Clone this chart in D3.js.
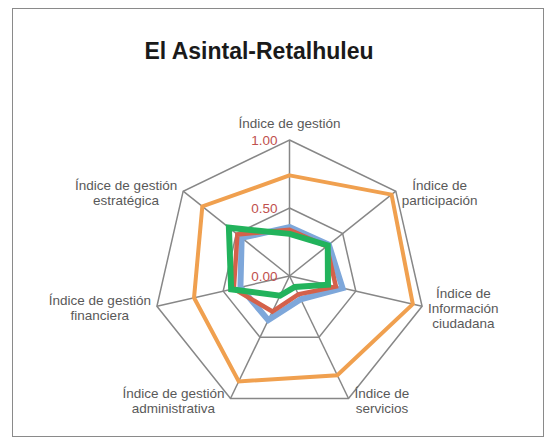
<!DOCTYPE html>
<html><head><meta charset="utf-8">
<script src="https://cdn.jsdelivr.net/npm/d3@7"></script>
<style>body{margin:0;background:#fff}</style>
</head><body>
<script>
const title = "El Asintal-Retalhuleu";
const categories = [
  ["Índice de gestión"],
  ["Índice de", "participación"],
  ["Índice de", "Información", "ciudadana"],
  ["Índice de", "servicios"],
  ["Índice de gestión", "administrativa"],
  ["Índice de gestión", "financiera"],
  ["Índice de gestión", "estratégica"]
];
const tickValues = [0, 0.5, 1.0];
const tickLabels = ["0.00", "0.50", "1.00"];
const seriesNames = ["Serie azul", "Serie roja", "Serie verde", "Serie naranja"];
const blueValues   = [0.36, 0.37, 0.40, 0.19, 0.36, 0.37, 0.45];
const redValues    = [0.34, 0.35, 0.35, 0.15, 0.29, 0.42, 0.49];
const greenValues  = [0.31, 0.36, 0.29, 0.09, 0.16, 0.44, 0.57];
const orangeValues = [0.74, 0.96, 0.93, 0.81, 0.86, 0.72, 0.82];
const seriesColors = ["#7ea7da", "#d4614a", "#22b35c", "#f0a04f"];
const seriesWidths = [6, 4.5, 6, 4];

const W = 548, H = 443;
const cx = 289.5, cy = 276, R = 136;
const svg = d3.select("body").append("svg").attr("width", W).attr("height", H);

svg.append("rect").attr("x", 12.5).attr("y", 8.5).attr("width", 531).attr("height", 428)
  .attr("fill", "#fff").attr("stroke", "#8a8a8a").attr("stroke-width", 1);

svg.append("text").attr("x", 259).attr("y", 59).attr("text-anchor", "middle")
  .attr("font-family", "Liberation Sans, Arial, sans-serif").attr("font-weight", "bold")
  .attr("font-size", 23).attr("fill", "#1a1a1a").text(title);

const n = categories.length;
const r = d3.scaleLinear().domain([0, 1]).range([0, R]);
const ang = d3.scaleLinear().domain([0, n]).range([0, 2 * Math.PI]);
const pt = (i, v) => [cx + r(v) * Math.sin(ang(i)), cy - r(v) * Math.cos(ang(i))];

const g = svg.append("g");
// rings
tickValues.filter(t => t > 0).forEach(t => {
  g.append("path").attr("d", d3.line()(d3.range(n).map(i => pt(i, t))) + "Z")
    .attr("fill", "none").attr("stroke", "#878787").attr("stroke-width", 1.5);
});
// spokes
d3.range(n).forEach(i => {
  const p = pt(i, 1);
  g.append("line").attr("x1", cx).attr("y1", cy).attr("x2", p[0]).attr("y2", p[1])
    .attr("stroke", "#878787").attr("stroke-width", 1.5);
});

// series
const allSeries = [blueValues, redValues, greenValues, orangeValues];
allSeries.forEach((vals, k) => {
  g.append("path").attr("d", d3.line()(vals.map((v, i) => pt(i, v))) + "Z")
    .attr("fill", "none").attr("stroke", seriesColors[k]).attr("stroke-width", seriesWidths[k])
    .attr("stroke-linejoin", "miter").attr("stroke-miterlimit", 4);
});

// tick labels
tickValues.forEach((t, j) => {
  svg.append("text").attr("x", cx - 12).attr("y", cy - r(t) + 5)
    .attr("text-anchor", "end").attr("font-family", "Liberation Sans, Arial, sans-serif")
    .attr("font-size", 13.5).attr("fill", "#c0504d").text(tickLabels[j]);
});

// category labels
const lh = 15;
categories.forEach((lines, i) => {
  const a = ang(i), s = Math.sin(a);
  const v = pt(i, 1);
  const grp = svg.append("g");
  const texts = lines.map(l => grp.append("text").attr("font-family", "Liberation Sans, Arial, sans-serif")
    .attr("font-size", 13.5).attr("fill", "#595959").attr("text-anchor", "middle").text(l));
  const wmax = d3.max(texts, t => t.node().getComputedTextLength());
  let bx, by;
  if (Math.abs(s) < 0.1) {
    bx = v[0]; by = v[1] - 8 - (lines.length * lh) / 2;
  } else {
    bx = s > 0 ? v[0] + 6 + wmax / 2 : v[0] - 6 - wmax / 2;
    by = v[1] + 3;
  }
  const top = by - (lines.length * lh) / 2;
  texts.forEach((t, k) => t.attr("x", bx).attr("y", top + k * lh + 11));
});
</script>
</body></html>
